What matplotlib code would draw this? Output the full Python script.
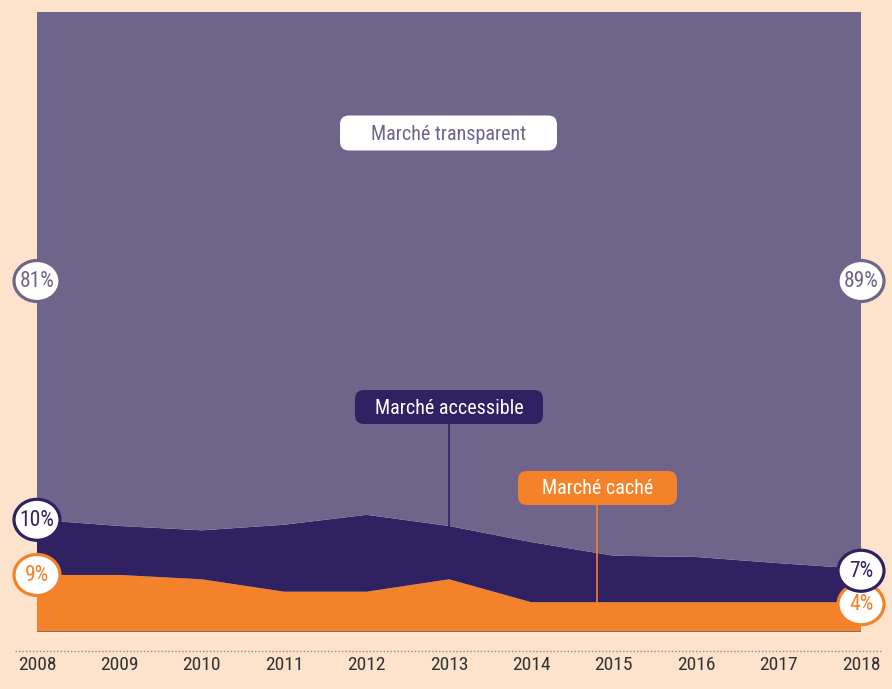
import matplotlib
matplotlib.use("Agg")
import matplotlib.pyplot as plt
from matplotlib.patches import FancyBboxPatch, Ellipse
import numpy as np

plt.rcParams['font.family'] = ['Roboto Condensed', 'Roboto', 'DejaVu Sans']

years = [2008, 2009, 2010, 2011, 2012, 2013, 2014, 2015, 2016, 2017, 2018]
year_labels = [str(y) for y in years]
marche_cache = [9.2, 9.2, 8.5, 6.5, 6.5, 8.5, 4.8, 4.8, 4.8, 4.8, 4.8]
marche_accessible = [8.9, 7.9, 7.9, 10.8, 12.4, 8.6, 9.7, 7.5, 7.3, 6.3, 5.4]
marche_transparent = [81.9, 82.9, 83.6, 82.7, 81.1, 82.9, 85.5, 87.7, 87.9, 88.9, 89.8]

series_names = ["Marché caché", "Marché accessible", "Marché transparent"]
start_labels = ["9%", "10%", "81%"]
end_labels = ["4%", "7%", "89%"]

BG = "#fde2cc"
ORANGE = "#f3822a"
DARK = "#302262"
LIGHT = "#6f658b"
TXT = "#333333"

W, H = 892, 689
fig = plt.figure(figsize=(W / 100, H / 100), dpi=100)
fig.patch.set_facecolor(BG)

ax = fig.add_axes([37 / W, 57 / H, 824 / W, 620 / H])
ax.stackplot(years, marche_cache, marche_accessible, marche_transparent,
             colors=[ORANGE, DARK, LIGHT], linewidth=0)
ax.set_xlim(years[0], years[-1])
ax.set_ylim(0, 100)
ax.axis('off')
ax.axhline(0, color=LIGHT, lw=1.2, zorder=3)

ov = fig.add_axes([0, 0, 1, 1], zorder=5)
ov.set_xlim(0, W)
ov.set_ylim(H, 0)
ov.axis('off')
ov.patch.set_alpha(0)

fig.canvas.draw()


def px(x, y):
    X, Y = ax.transData.transform((x, y))
    return X, H - Y


# year labels and dotted baseline
for yr, lab in zip(years, year_labels):
    X, _ = px(yr, 0)
    ov.text(X, 665, lab, ha='center', va='center', fontsize=14, color=TXT)
ov.plot([15, 882], [651, 651], ls=(0, (1, 1.5)), color='#8a8a8a', lw=1)

# leader lines
cum_acc = np.array(marche_cache) + np.array(marche_accessible)
x1, ytop1 = px(2013, cum_acc[years.index(2013)])
ov.plot([x1, x1], [424, ytop1], color=DARK, lw=1.2)
x2, ytop2 = px(2014.8, np.interp(2014.8, years, marche_cache))
ov.plot([x2, x2], [505, ytop2], color=ORANGE, lw=1.2)


def box(cx, cy, w, h, fc, text, tc):
    p = FancyBboxPatch((cx - w / 2, cy - h / 2), w, h,
                       boxstyle="round,pad=0,rounding_size=9",
                       fc=fc, ec='none')
    ov.add_patch(p)
    ov.text(cx, cy + 1, text, ha='center', va='center', fontsize=14.5, color=tc)


box(448.5, 133, 217, 35, 'white', series_names[2], LIGHT)
box(449, 407, 188, 34, DARK, series_names[1], 'white')
box(597.5, 488, 159, 34, ORANGE, series_names[0], 'white')


def bubble(cx, cy, text, ec):
    e = Ellipse((cx, cy), 46, 41, fc='white', ec=ec, lw=2.3)
    ov.add_patch(e)
    ov.text(cx, cy + 0.5, text, ha='center', va='center', fontsize=15.5, color=ec)


xl, _ = px(years[0], 0)
xr, _ = px(years[-1], 0)
bubble(xl, 281, start_labels[2], LIGHT)
bubble(xr, 281, end_labels[2], LIGHT)
_, yb = px(years[0], cum_acc[0])
bubble(xl, yb, start_labels[1], DARK)
_, yb = px(years[0], marche_cache[0])
bubble(xl, yb, start_labels[0], ORANGE)
_, yb = px(years[-1], marche_cache[-1])
bubble(xr, yb + 2, end_labels[0], ORANGE)
_, yb = px(years[-1], cum_acc[-1])
bubble(xr, yb + 2, end_labels[1], DARK)

fig.savefig("out.png", dpi=100, facecolor=BG)
